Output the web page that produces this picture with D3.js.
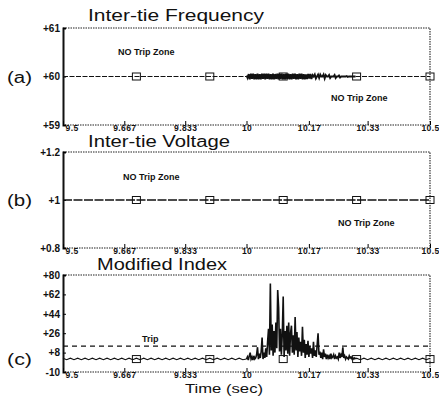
<!DOCTYPE html>
<html>
<head>
<meta charset="utf-8">
<script src="https://cdn.jsdelivr.net/npm/d3@7"></script>
<style>
  body { margin: 0; background: #fff; }
  text { font-family: "Liberation Sans", Arial, sans-serif; fill: #111; }
</style>
</head>
<body>
<div id="canvas"></div>
<script>
const W = 439, H = 398;

const xTicks = [9.5, 9.667, 9.833, 10, 10.17, 10.33, 10.5];
const xTickLabels = ["9.5", "9.667", "9.833", "10", "10.17", "10.33", "10.5"];
const markerTimes = [9.7, 9.9, 10.1, 10.3, 10.5];

// (a) frequency: flat at 60 Hz, oscillation burst sampled every 3 ms from 10.0 s
const freqTicks = [59, 60, 61];
const freqNominal = 60;
const freqNoise = [
  0.02,-0.03,0.05,-0.06,0.06,-0.05,0.06,-0.06,0.05,-0.06,
  0.06,-0.06,0.05,-0.06,0.06,-0.05,0.06,-0.06,0.06,-0.05,
  0.06,-0.06,0.05,-0.06,0.06,-0.06,0.05,-0.05,0.06,-0.06,
  0.06,-0.05,0.06,-0.06,0.05,-0.06,0.06,-0.05,0.06,-0.06,
  0.05,-0.06,0.06,-0.05,0.06,-0.06,0.05,-0.06,0.06,-0.05,
  0.06,-0.06,0.05,-0.06,0.04,-0.05,0.05,-0.04,0.05,-0.05,
  0.03,0,0.04,-0.04,0,0.04,-0.03,0.04,0,0,
  0.04,-0.04,0.03,0,0,0.03,-0.03,0,0,0,
  0.03,-0.03,0,0,0.02,-0.02,0,0,0,0,
  0,0.01,-0.01,0,0,0,0,0,0,0
];

// (b) voltage
const voltTicks = [0.8, 1, 1.2];
const voltTimes = [9.5, 10.5];
const voltValues = [1, 1];

// (c) modified index
const indexTicks = [-10, 8, 26, 44, 62, 80];
const tripLevel = 14;
const indexQuietBefore = [ // every 10 ms from 9.5 s
  2.8,1.4,2.8,1.4,2.8,1.4,2.8,1.4,2.8,1.4,
  2.8,1.4,2.8,1.4,2.8,1.4,2.8,1.4,2.8,1.4,
  2.8,1.4,2.8,1.4,2.8,1.4,2.8,1.4,2.8,1.4,
  2.8,1.4,2.8,1.4,2.8,1.4,2.8,1.4,2.8,1.4,
  2.8,1.4,2.8,1.4,2.8,1.4,2.8,1.4,2.8,1.4
];
const indexBurst = [ // every 2.5 ms from 10.0 s
  2,4,1,5,8,2,4,1,5,2,
  3,6,13,2,7,3,9,22,2,8,
  3,12,4,18,30,6,72,10,34,5,
  28,8,36,12,66,50,9,30,6,25,
  60,4,28,10,33,7,36,5,26,33,
  8,24,6,41,10,27,4,22,9,18,
  5,32,8,20,3,16,6,19,4,14,
  7,12,3,18,5,10,4,15,26,6,
  9,3,8,2,11,4,7,2,6,3,
  5,2,7,3,4,6,2,5,3,4,
  2,8,3,6,4,13,3,5,2,4,
  3,2,5,3,4,2,3,2,3,2
];
const indexQuietAfter = [ // every 10 ms from 10.3 s
  2.8,1.4,2.8,1.4,2.8,1.4,2.8,1.4,2.8,1.4,
  2.8,1.4,2.8,1.4,2.8,1.4,2.8,1.4,2.8,1.4,2.8
];

const freqBase = [[9.5, freqNominal], [10.5, freqNominal]];
const freqBurst = freqNoise.map((d, i) => [10 + i * 0.003, freqNominal + d]);
const voltSeries = voltTimes.map((t, i) => [t, voltValues[i]]);
const indexQuiet = [
  ...indexQuietBefore.map((v, i) => [9.5 + i * 0.01, v]),
  [10, indexBurst[0]]
];
const indexLoud = indexBurst.map((v, i) => [10 + i * 0.0025, v]);
const indexTail = [
  [10.2975, indexBurst[indexBurst.length - 1]],
  ...indexQuietAfter.map((v, i) => [10.3 + i * 0.01, v])
];

const panels = [
  { tag: "(a)", title: "Inter-tie Frequency", titleX: 88, titleY: 21, titleLen: 176,
    top: 28, bottom: 125, domain: [59, 61], ticks: freqTicks,
    lines: [{ data: freqBase, dash: "5,1.5", w: 1.1 }, { data: freqBurst, dash: null, w: 1.9 }],
    markerValue: 60,
    notes: [{ text: "NO Trip Zone", x: 118, y: 55 }, { text: "NO Trip Zone", x: 331, y: 101 }] },
  { tag: "(b)", title: "Inter-tie Voltage", titleX: 88, titleY: 147, titleLen: 142,
    top: 152, bottom: 248, domain: [0.8, 1.2], ticks: voltTicks,
    lines: [{ data: voltSeries, dash: "9,1.5", w: 1.3 }],
    markerValue: 1,
    notes: [{ text: "NO Trip Zone", x: 123, y: 180 }, { text: "NO Trip Zone", x: 338, y: 226 }] },
  { tag: "(c)", title: "Modified Index", titleX: 97, titleY: 270, titleLen: 130,
    top: 275, bottom: 372, domain: [-10, 80], ticks: indexTicks,
    lines: [{ data: indexQuiet, dash: null, w: 1.1 }, { data: indexLoud, dash: null, w: 1.6 },
            { data: indexTail, dash: null, w: 1.1 }],
    markerValue: 2, trip: tripLevel,
    notes: [{ text: "Trip", x: 142, y: 342 }] }
];

const svg = d3.select("#canvas").append("svg")
  .attr("width", W).attr("height", H);

const x = d3.scaleLinear().domain([9.5, 10.5]).range([63, 430]);

panels.forEach(p => {
  const y = d3.scaleLinear().domain(p.domain).range([p.bottom, p.top]);
  const g = svg.append("g");

  // frame: solid left spine, dotted elsewhere
  g.append("path")
    .attr("d", `M${x(9.5)},${p.top}H${x(10.5)}V${p.bottom}H${x(9.5)}`)
    .attr("fill", "none").attr("stroke", "#222").attr("stroke-width", 1.1)
    .attr("stroke-dasharray", "1.5,1");

  const yAxis = d3.axisLeft(y).tickValues(p.ticks)
    .tickFormat(d => (d < 0 ? "-" : "+") + Math.abs(d))
    .tickSize(-3).tickPadding(3);
  const ya = g.append("g").attr("transform", `translate(${x(9.5)},0)`).call(yAxis);
  ya.select(".domain").attr("stroke", "#111").attr("stroke-width", 2);
  ya.selectAll("text").attr("font-size", 10).attr("font-weight", "bold")
    .attr("font-family", "Liberation Sans, Arial, sans-serif");

  const xAxis = d3.axisBottom(x).tickValues(xTicks)
    .tickFormat((d, i) => xTickLabels[i]).tickSize(-4).tickPadding(1);
  const xa = g.append("g").attr("transform", `translate(0,${p.bottom})`).call(xAxis);
  xa.select(".domain").remove();
  xa.selectAll("text").attr("font-size", 8.5).attr("font-weight", "bold")
    .attr("letter-spacing", 0.4).attr("dy", "0.6em")
    .attr("font-family", "Liberation Sans, Arial, sans-serif");
  // first label sits just right of the spine so it clears the lowest y label
  xa.selectAll("text").filter(d => d === xTicks[0])
    .attr("text-anchor", "start").attr("dx", 2);

  if (p.trip !== undefined) {
    g.append("line")
      .attr("x1", x(9.5)).attr("x2", x(10.5))
      .attr("y1", y(p.trip)).attr("y2", y(p.trip))
      .attr("stroke", "#111").attr("stroke-width", 1.2)
      .attr("stroke-dasharray", "5,4");
  }

  const line = d3.line().x(d => x(d[0])).y(d => y(d[1]));
  p.lines.forEach(l => {
    g.append("path").datum(l.data)
      .attr("d", line)
      .attr("fill", "none").attr("stroke", "#111").attr("stroke-width", l.w)
      .attr("stroke-dasharray", l.dash);
  });

  g.selectAll("rect.mk").data(markerTimes).enter().append("rect")
    .attr("class", "mk")
    .attr("x", t => x(t) - 4).attr("y", y(p.markerValue) - 3.5)
    .attr("width", 8).attr("height", 7)
    .attr("fill", "none").attr("stroke", "#111").attr("stroke-width", 1);

  g.append("text").text(p.title)
    .attr("x", p.titleX).attr("y", p.titleY)
    .attr("font-size", 16)
    .attr("textLength", p.titleLen).attr("lengthAdjust", "spacingAndGlyphs");

  g.append("text").text(p.tag)
    .attr("x", 7).attr("y", y(p.markerValue) + 6)
    .attr("font-size", 16)
    .attr("textLength", 25).attr("lengthAdjust", "spacingAndGlyphs");

  p.notes.forEach(n => {
    g.append("text").text(n.text)
      .attr("x", n.x).attr("y", n.y)
      .attr("font-size", 9).attr("font-weight", "bold");
  });
});

svg.append("text").text("Time (sec)")
  .attr("x", 185).attr("y", 393)
  .attr("font-size", 13)
  .attr("textLength", 78).attr("lengthAdjust", "spacingAndGlyphs");
</script>
</body>
</html>
